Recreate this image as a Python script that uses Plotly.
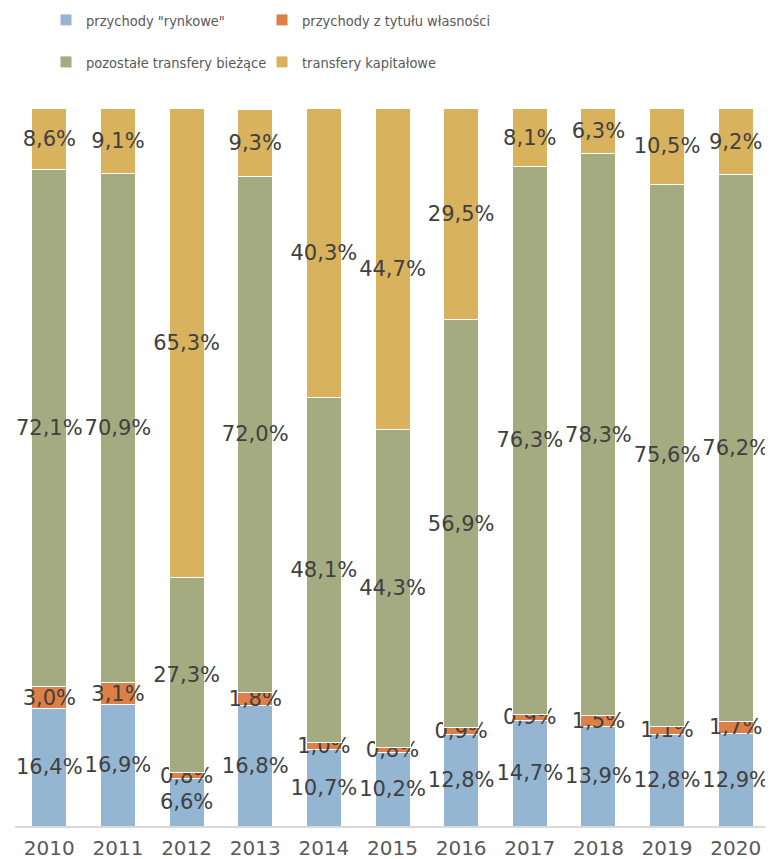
import plotly.graph_objects as go

years = ["2010", "2011", "2012", "2013", "2014", "2015", "2016", "2017", "2018", "2019", "2020"]
rynkowe = [16.4, 16.9, 6.6, 16.8, 10.7, 10.2, 12.8, 14.7, 13.9, 12.8, 12.9]
wlasnosci = [3.0, 3.1, 0.8, 1.8, 1.0, 0.8, 0.9, 0.9, 1.5, 1.1, 1.7]
pozostale = [72.1, 70.9, 27.3, 72.0, 48.1, 44.3, 56.9, 76.3, 78.3, 75.6, 76.2]
kapitalowe = [8.6, 9.1, 65.3, 9.3, 40.3, 44.7, 29.5, 8.1, 6.3, 10.5, 9.2]

series = [
    ('przychody "rynkowe"', rynkowe, "#94B6D2", "legend"),
    ("przychody z tytułu własności", wlasnosci, "#DD8047", "legend2"),
    ("pozostałe transfery bieżące", pozostale, "#A5AB81", "legend3"),
    ("transfery kapitałowe", kapitalowe, "#D8B25C", "legend4"),
]

FONT = "DejaVu Sans, sans-serif"
LEGFONT = "DejaVu Sans Condensed, sans-serif"
TXT = "#595959"
LBL = "#404040"

fig = go.Figure()
for name, vals, col, leg in series:
    fig.add_trace(go.Bar(
        x=years, y=vals, name=name,
        marker=dict(color=col, line=dict(color="white", width=1)),
        text=[f"{v:.1f}%".replace(".", ",") for v in vals],
        textposition="inside", insidetextanchor="middle",
        textangle=0, constraintext="none",
        textfont=dict(family=FONT, size=21, color=LBL),
        legend=leg, showlegend=True,
    ))

W, H = 765, 851
lc = dict(orientation="h", xref="container", yref="container",
          xanchor="left", yanchor="middle", visible=True,
          font=dict(family=LEGFONT, size=14.5, color=TXT),
          bgcolor="rgba(0,0,0,0)")
col1, col2 = 38 / W, 254 / W
row1, row2 = 1 - 12 / H, 1 - 54 / H

fig.update_layout(
    barmode="stack",
    bargap=0.49,
    width=W, height=H,
    showlegend=True,
    margin=dict(l=7, r=3, t=100, b=33, autoexpand=False),
    plot_bgcolor="white", paper_bgcolor="white",
    font=dict(family=FONT, color=TXT),
    legend=dict(lc, x=col1, y=row1),
    legend2=dict(lc, x=col2, y=row1),
    legend3=dict(lc, x=col1, y=row2),
    legend4=dict(lc, x=col2, y=row2),
    xaxis=dict(showline=True, linecolor="#D9D9D9", linewidth=2,
               tickfont=dict(family=FONT, size=20, color=TXT),
               ticks="", showgrid=False, automargin=False,
               ticklabelstandoff=3),
    yaxis=dict(visible=False, range=[0, 100.1], showgrid=False),
)

fig.write_html("out.html")
